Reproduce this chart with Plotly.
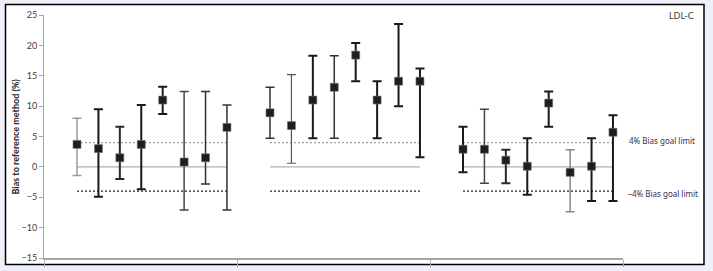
import plotly.graph_objects as go

# ---- data ----
groups = ["Group 1", "Group 2", "Group 3"]
labs = ["L1", "L2", "L3", "L4", "L5", "L6", "L7", "L8"]

bias_g1 = [3.7, 3.0, 1.5, 3.7, 11.0, 0.8, 1.5, 6.5]
upper_g1 = [8.0, 9.5, 6.6, 10.2, 13.2, 12.4, 12.4, 10.2]
lower_g1 = [-1.4, -4.9, -2.0, -3.7, 8.7, -7.1, -2.8, -7.1]

bias_g2 = [8.9, 6.8, 11.0, 13.1, 18.4, 11.0, 14.1, 14.1]
upper_g2 = [13.1, 15.2, 18.3, 18.3, 20.4, 14.1, 23.5, 16.2]
lower_g2 = [4.7, 0.6, 4.7, 4.7, 14.1, 4.7, 10.0, 1.6]

bias_g3 = [2.9, 2.9, 1.1, 0.1, 10.5, -0.9, 0.1, 5.7]
upper_g3 = [6.6, 9.5, 2.8, 4.7, 12.4, 2.8, 4.7, 8.5]
lower_g3 = [-0.9, -2.7, -2.7, -4.6, 6.6, -7.4, -5.6, -5.6]

goal_limit = 4
y_ticks = [-15, -10, -5, 0, 5, 10, 15, 20, 25]

# error-bar styles (colour, thickness) per group
styles_g1 = [("#9a9a9a", 1.5), ("#1a1a1a", 2), ("#2a2a2a", 2), ("#1a1a1a", 2),
             ("#1a1a1a", 2), ("#444444", 1.5), ("#333333", 1.5), ("#333333", 1.5)]
styles_g2 = [("#333333", 1.5), ("#555555", 1.2), ("#1a1a1a", 2), ("#333333", 1.5),
             ("#1a1a1a", 2), ("#1a1a1a", 2), ("#1a1a1a", 2), ("#1a1a1a", 2)]
styles_g3 = [("#1a1a1a", 2), ("#444444", 1.5), ("#2a2a2a", 2), ("#1a1a1a", 2),
             ("#1a1a1a", 2), ("#888888", 1.5), ("#1a1a1a", 2), ("#1a1a1a", 2)]

all_bias = [bias_g1, bias_g2, bias_g3]
all_up = [upper_g1, upper_g2, upper_g3]
all_lo = [lower_g1, lower_g2, lower_g3]
all_styles = [styles_g1, styles_g2, styles_g3]

FONT = "Lato"
LABEL_FONT = "Noto Sans"
start, step = 0.171, 0.111

fig = go.Figure()

for gi, g in enumerate(groups):
    xs = [gi + start + step * j for j in range(len(labs))]
    # reference lines
    fig.add_trace(go.Scatter(x=[xs[0], xs[-1]], y=[0, 0], mode="lines",
                             line=dict(color="#b0b0b0", width=1.2), showlegend=False, hoverinfo="skip"))
    fig.add_trace(go.Scatter(x=[xs[0], xs[-1]], y=[goal_limit, goal_limit], mode="lines",
                             line=dict(color="#a0a0a0", width=1.2, dash="2px,2px"), showlegend=False, hoverinfo="skip"))
    fig.add_trace(go.Scatter(x=[xs[0], xs[-1]], y=[-goal_limit, -goal_limit], mode="lines",
                             line=dict(color="#222222", width=1.2, dash="2px,2px"), showlegend=False, hoverinfo="skip"))
    for j, lab in enumerate(labs):
        b = all_bias[gi][j]
        col, th = all_styles[gi][j]
        fig.add_trace(go.Scatter(
            x=[xs[j]], y=[b], mode="markers", name=lab, showlegend=False,
            marker=dict(symbol="square", size=8, color="#1e1e1e", line=dict(color="#777777", width=0.6)),
            error_y=dict(type="data", symmetric=False,
                         array=[all_up[gi][j] - b], arrayminus=[b - all_lo[gi][j]],
                         color=col, thickness=th, width=4.5),
        ))

L, R, T, B = 44, 90, 15, 13
W, H = 713, 271
pw, ph = W - L - R, H - T - B

def px_x(x):
    return (x - L) / pw

def px_y(y):
    return 1 - (y - T) / ph

fig.update_layout(
    width=W, height=H, autosize=False,
    margin=dict(l=L, r=R, t=T, b=B, pad=0, autoexpand=False),
    paper_bgcolor="#eef0f9", plot_bgcolor="rgba(0,0,0,0)",
    font=dict(family=FONT, size=9, color="#404040"),
    showlegend=False,
    xaxis=dict(range=[0, 3], tickvals=[0, 1, 2, 3], showticklabels=False,
               ticks="outside", ticklen=7, tickcolor="#b0b0b0", tickwidth=1,
               showline=True, linecolor="#a6a6a6", linewidth=1.5,
               showgrid=False, zeroline=False, automargin=False),
    yaxis=dict(range=[-15, 25], tickvals=y_ticks, ticks="outside", ticklen=4,
               tickcolor="#a6a6a6", showline=True, linecolor="#a6a6a6", linewidth=1,
               showgrid=False, zeroline=False, automargin=False,
               tickfont=dict(family=FONT, size=9, color="#404040")),
    shapes=[dict(type="rect", xref="paper", yref="paper", layer="below",
                 x0=px_x(5.5), x1=px_x(704), y0=px_y(264.5), y1=px_y(4.5),
                 fillcolor="white", line=dict(color="black", width=1.5))],
    annotations=[
        dict(text="Bias to reference method (%)", xref="paper", yref="paper",
             x=px_x(15), y=0.5, textangle=-90, showarrow=False,
             xanchor="center", yanchor="middle",
             font=dict(family=FONT, size=9, color="#262626", weight="bold")),
        dict(text="LDL-C", xref="paper", yref="paper", x=px_x(696), y=px_y(15),
             xanchor="right", yanchor="middle", showarrow=False,
             font=dict(family=FONT, size=9, color="#404040")),
        dict(text=f"{goal_limit}% Bias goal limit", xref="paper", yref="y",
             x=px_x(627), y=goal_limit + 0.4, xanchor="left", yanchor="middle", showarrow=False,
             font=dict(family=LABEL_FONT, size=8, color="#2f3050")),
        dict(text=f"\u2013{goal_limit}% Bias goal limit", xref="paper", yref="y",
             x=px_x(626), y=-goal_limit - 0.3, xanchor="left", yanchor="middle", showarrow=False,
             font=dict(family=LABEL_FONT, size=8, color="#2f3050")),
    ],
)

fig.write_html("out.html")
